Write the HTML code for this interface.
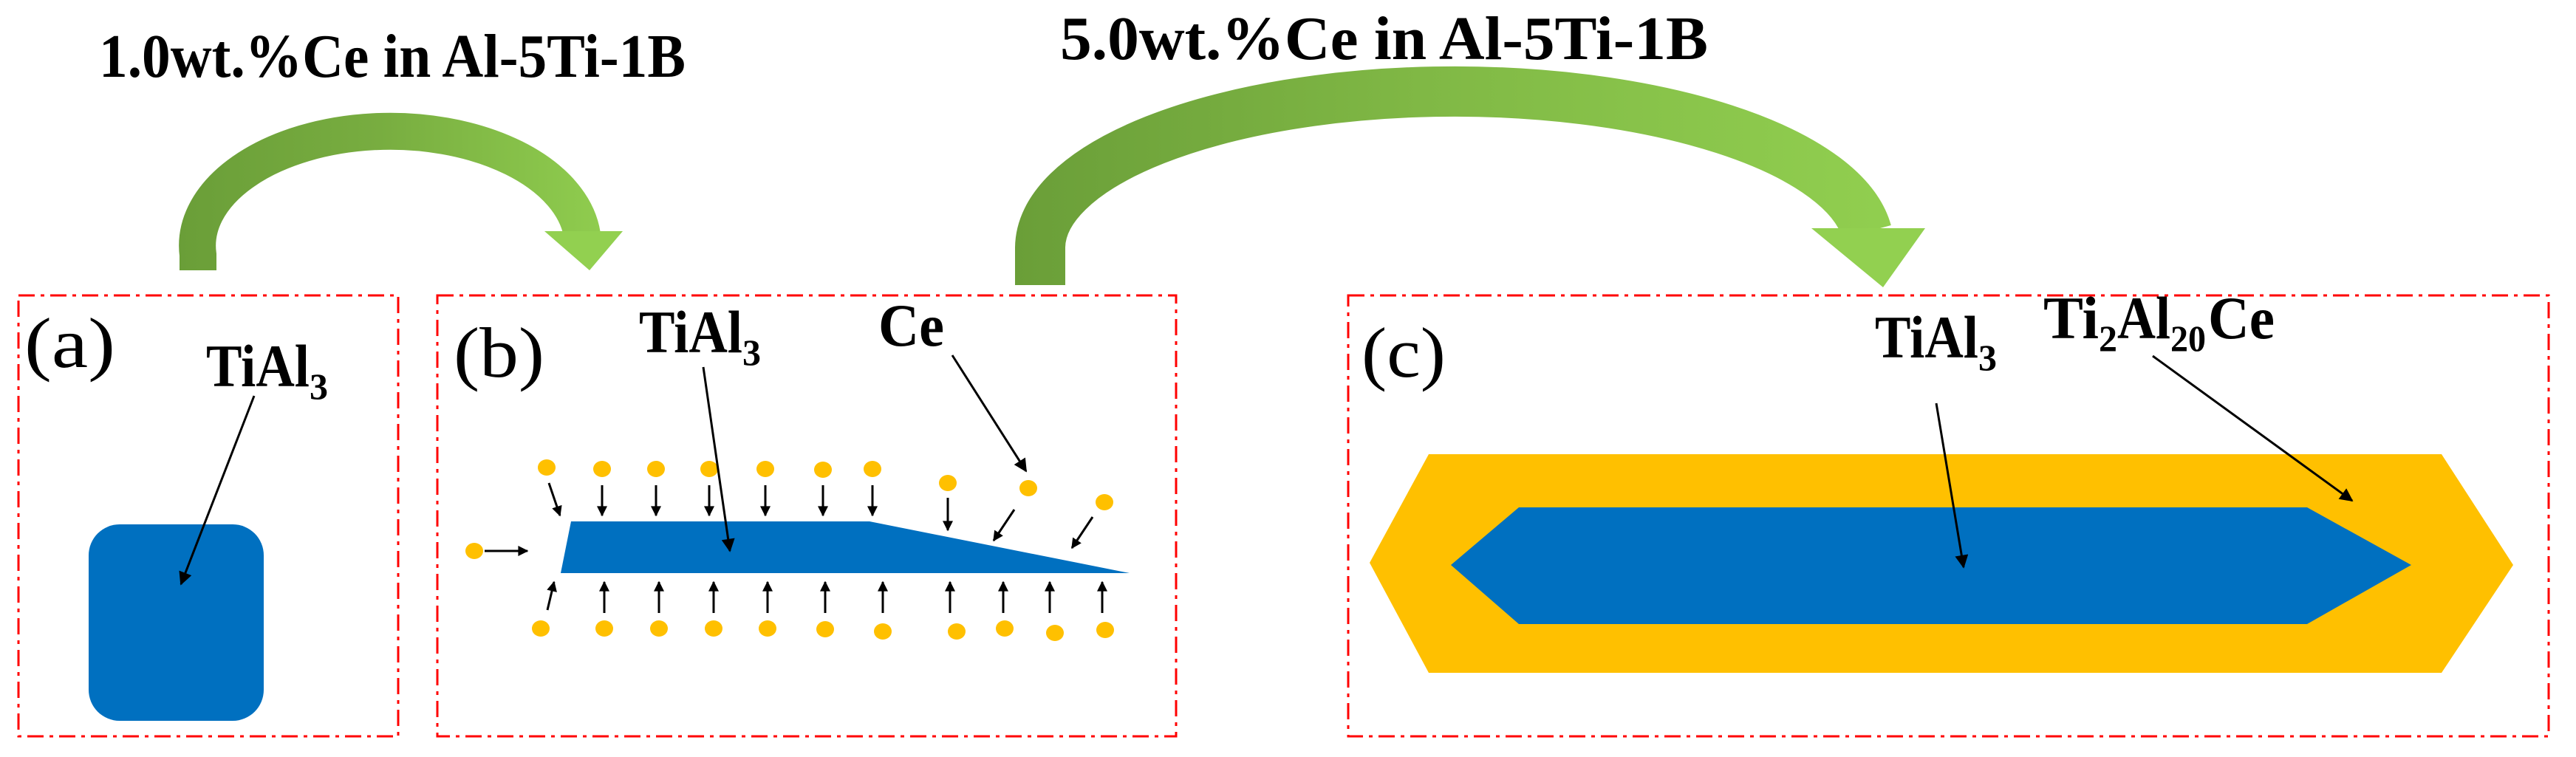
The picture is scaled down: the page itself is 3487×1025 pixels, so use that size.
<!DOCTYPE html>
<html><head><meta charset="utf-8"><style>html,body{margin:0;padding:0;background:#fff}svg{display:block}</style></head>
<body>
<svg width="3487" height="1025" viewBox="0 0 3487 1025" xmlns="http://www.w3.org/2000/svg" font-family="'Liberation Serif', serif">
<defs>
<linearGradient id="g1" x1="240" y1="0" x2="850" y2="0" gradientUnits="userSpaceOnUse"><stop offset="0" stop-color="#6a9e38"/><stop offset="0.45" stop-color="#78ad40"/><stop offset="1" stop-color="#92d050"/></linearGradient>
<linearGradient id="g2" x1="1370" y1="0" x2="2600" y2="0" gradientUnits="userSpaceOnUse"><stop offset="0" stop-color="#6a9e38"/><stop offset="0.45" stop-color="#80b845"/><stop offset="1" stop-color="#92d050"/></linearGradient>
<marker id="ahb" viewBox="0 0 10 10" refX="9" refY="5" markerWidth="24" markerHeight="18" orient="auto" markerUnits="userSpaceOnUse"><path d="M0,0 L10,5 L0,10 z" fill="#000"/></marker>
<marker id="ahs" viewBox="0 0 10 10" refX="9" refY="5" markerWidth="16" markerHeight="14" orient="auto" markerUnits="userSpaceOnUse"><path d="M0,0 L10,5 L0,10 z" fill="#000"/></marker>
</defs>

<!-- titles -->
<text x="134" y="104" font-size="84" font-weight="bold" textLength="794" lengthAdjust="spacingAndGlyphs">1.0wt.%Ce in Al-5Ti-1B</text>
<text x="1435" y="80" font-size="84" font-weight="bold" textLength="877" lengthAdjust="spacingAndGlyphs">5.0wt.%Ce in Al-5Ti-1B</text>

<!-- green arrows -->
<path d="M268,366 L268,345 A261,155 0 0 1 788,318" fill="none" stroke="url(#g1)" stroke-width="50"/>
<polygon points="737,313 843,313 798,366" fill="#92d050"/>
<path d="M1408,386 L1408,335 A561,212 0 0 1 2527,314" fill="none" stroke="url(#g2)" stroke-width="68"/>
<polygon points="2452,309 2606,309 2549,389" fill="#92d050"/>

<!-- boxes -->
<g fill="none" stroke="#ff0000" stroke-width="3" stroke-dasharray="22 8 5 8">
<rect x="25" y="400" width="514" height="597"/>
<rect x="592" y="400" width="1000" height="597"/>
<rect x="1825" y="400" width="1625" height="597"/>
</g>

<!-- box a -->
<text x="33" y="497" font-size="96" textLength="123" lengthAdjust="spacingAndGlyphs">(a)</text>
<text x="279" y="523" font-size="82" font-weight="bold" textLength="140" lengthAdjust="spacingAndGlyphs">TiAl</text><text x="419" y="540" font-size="50" font-weight="bold">3</text>
<rect x="120" y="710" width="237" height="266" rx="42" fill="#0070c0"/>
<line x1="344" y1="536" x2="245" y2="791" stroke="#000" stroke-width="3" marker-end="url(#ahb)"/>

<!-- box b -->
<text x="614" y="510" font-size="96" textLength="123" lengthAdjust="spacingAndGlyphs">(b)</text>
<text x="865" y="477" font-size="82" font-weight="bold" textLength="140" lengthAdjust="spacingAndGlyphs">TiAl</text><text x="1005" y="494" font-size="50" font-weight="bold">3</text>
<text x="1189" y="468" font-size="82" font-weight="bold" textLength="89" lengthAdjust="spacingAndGlyphs">Ce</text>
<polygon points="773,706 1177,706 1529,776 759,776" fill="#0070c0"/>
<g fill="#ffc000">
<ellipse cx="740" cy="633" rx="12" ry="11"/><ellipse cx="815" cy="635" rx="12" ry="11"/><ellipse cx="888" cy="635" rx="12" ry="11"/><ellipse cx="960" cy="635" rx="12" ry="11"/><ellipse cx="1036" cy="635" rx="12" ry="11"/><ellipse cx="1114" cy="636" rx="12" ry="11"/><ellipse cx="1181" cy="635" rx="12" ry="11"/><ellipse cx="1283" cy="654" rx="12" ry="11"/><ellipse cx="1392" cy="661" rx="12" ry="11"/><ellipse cx="1495" cy="680" rx="12" ry="11"/>
<ellipse cx="642" cy="746" rx="12" ry="11"/>
<ellipse cx="732" cy="851" rx="12" ry="11"/><ellipse cx="818" cy="851" rx="12" ry="11"/><ellipse cx="892" cy="851" rx="12" ry="11"/><ellipse cx="966" cy="851" rx="12" ry="11"/><ellipse cx="1039" cy="851" rx="12" ry="11"/><ellipse cx="1117" cy="852" rx="12" ry="11"/><ellipse cx="1195" cy="855" rx="12" ry="11"/><ellipse cx="1295" cy="855" rx="12" ry="11"/><ellipse cx="1360" cy="851" rx="12" ry="11"/><ellipse cx="1428" cy="857" rx="12" ry="11"/><ellipse cx="1496" cy="853" rx="12" ry="11"/>
</g>
<g stroke="#000" stroke-width="3" marker-end="url(#ahs)">
<line x1="743" y1="654" x2="758" y2="698"/>
<line x1="815" y1="657" x2="815" y2="698"/><line x1="888" y1="657" x2="888" y2="698"/><line x1="960" y1="657" x2="960" y2="698"/><line x1="1036" y1="657" x2="1036" y2="698"/><line x1="1114" y1="657" x2="1114" y2="698"/><line x1="1181" y1="657" x2="1181" y2="698"/>
<line x1="1283" y1="674" x2="1283" y2="718"/>
<line x1="1373" y1="690" x2="1345" y2="732"/>
<line x1="1479" y1="700" x2="1451" y2="742"/>
<line x1="656" y1="746" x2="714" y2="746"/>
<line x1="741" y1="826" x2="750" y2="788"/>
<line x1="818" y1="830" x2="818" y2="788"/><line x1="892" y1="830" x2="892" y2="788"/><line x1="966" y1="830" x2="966" y2="788"/><line x1="1039" y1="830" x2="1039" y2="788"/><line x1="1117" y1="830" x2="1117" y2="788"/><line x1="1195" y1="830" x2="1195" y2="788"/><line x1="1286" y1="830" x2="1286" y2="788"/><line x1="1358" y1="830" x2="1358" y2="788"/><line x1="1421" y1="830" x2="1421" y2="788"/><line x1="1492" y1="830" x2="1492" y2="788"/>
</g>
<line x1="952" y1="497" x2="988" y2="746" stroke="#000" stroke-width="3" marker-end="url(#ahb)"/>
<line x1="1289" y1="481" x2="1389" y2="638" stroke="#000" stroke-width="3" marker-end="url(#ahb)"/>

<!-- box c -->
<text x="1843" y="510" font-size="96" textLength="114" lengthAdjust="spacingAndGlyphs">(c)</text>
<polygon points="1934,615 3305,615 3402,765 3305,911 1934,911 1854,762" fill="#ffc000"/>
<polygon points="2056,687 3123,687 3264,765 3123,845 2056,845 1964,765" fill="#0070c0"/>
<text x="2538" y="484" font-size="82" font-weight="bold" textLength="140" lengthAdjust="spacingAndGlyphs">TiAl</text><text x="2678" y="501" font-size="50" font-weight="bold">3</text>
<text x="2766" y="458" font-size="82" font-weight="bold" textLength="75" lengthAdjust="spacingAndGlyphs">Ti</text><text x="2841" y="475" font-size="50" font-weight="bold">2</text><text x="2866" y="458" font-size="82" font-weight="bold" textLength="72" lengthAdjust="spacingAndGlyphs">Al</text><text x="2938" y="475" font-size="50" font-weight="bold" textLength="48" lengthAdjust="spacingAndGlyphs">20</text><text x="2989" y="458" font-size="82" font-weight="bold" textLength="90" lengthAdjust="spacingAndGlyphs">Ce</text>
<line x1="2621" y1="546" x2="2658" y2="768" stroke="#000" stroke-width="3" marker-end="url(#ahb)"/>
<line x1="2914" y1="482" x2="3184" y2="678" stroke="#000" stroke-width="3" marker-end="url(#ahb)"/>
</svg>
</body></html>
